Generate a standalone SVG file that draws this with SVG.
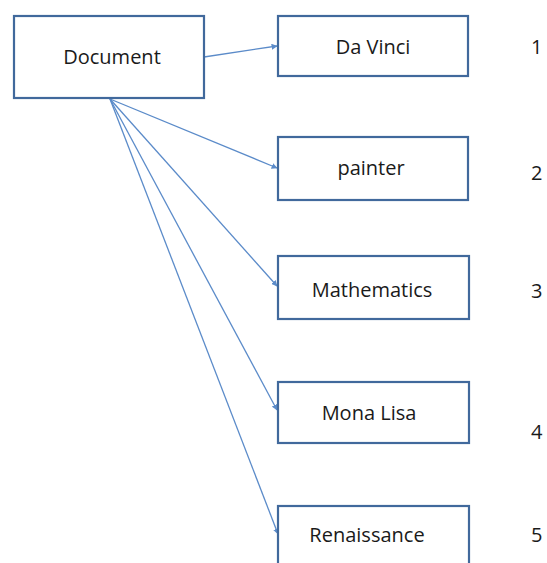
<svg xmlns="http://www.w3.org/2000/svg" width="547" height="563" viewBox="0 0 547 563">
<style>
.box{fill:#fff;stroke:#41699c;stroke-width:2.2}
.lbl{font-family:"Open Sans","Liberation Sans",Arial,sans-serif;font-size:20px;fill:#1a1a1a;text-anchor:middle}
.num{font-family:"Open Sans","Liberation Sans",Arial,sans-serif;font-size:20px;fill:#1a1a1a}
.edge{stroke:#5b8bc9;stroke-width:1.3;fill:none;marker-end:url(#ah)}
</style>
<defs>
<marker id="ah" viewBox="0 0 10 10" refX="9" refY="5" markerWidth="6" markerHeight="6" orient="auto" markerUnits="userSpaceOnUse">
<path d="M0,0 L10,5 L0,10 z" fill="#5b8bc9"/>
</marker>
</defs>
<g id="connectors">
<line class="edge" x1="204" y1="57" x2="277" y2="46"/>
<line class="edge" x1="110" y1="99" x2="277" y2="168"/>
<line class="edge" x1="110" y1="99" x2="277" y2="286"/>
<line class="edge" x1="110" y1="99" x2="277" y2="410"/>
<line class="edge" x1="110" y1="99" x2="278" y2="534"/>
</g>
<g id="document"><rect class="box" x="14" y="16" width="190" height="82"/><text class="lbl" x="112" y="64">Document</text></g>
<g id="davinci"><rect class="box" x="278" y="16" width="190" height="60"/><text class="lbl" x="373" y="54">Da Vinci</text></g>
<g id="painter"><rect class="box" x="278" y="137" width="190" height="63"/><text class="lbl" x="371" y="175">painter</text></g>
<g id="mathematics"><rect class="box" x="278" y="256" width="191" height="63"/><text class="lbl" x="372" y="297">Mathematics</text></g>
<g id="monalisa"><rect class="box" x="278" y="382" width="191" height="61"/><text class="lbl" x="369" y="420">Mona Lisa</text></g>
<g id="renaissance"><rect class="box" x="278" y="506" width="191" height="70"/><text class="lbl" x="367" y="542">Renaissance</text></g>
<g id="numbers">
<text class="num" x="531" y="54">1</text>
<text class="num" x="531" y="180">2</text>
<text class="num" x="531" y="298">3</text>
<text class="num" x="531" y="439">4</text>
<text class="num" x="531" y="542">5</text>
</g>
</svg>
